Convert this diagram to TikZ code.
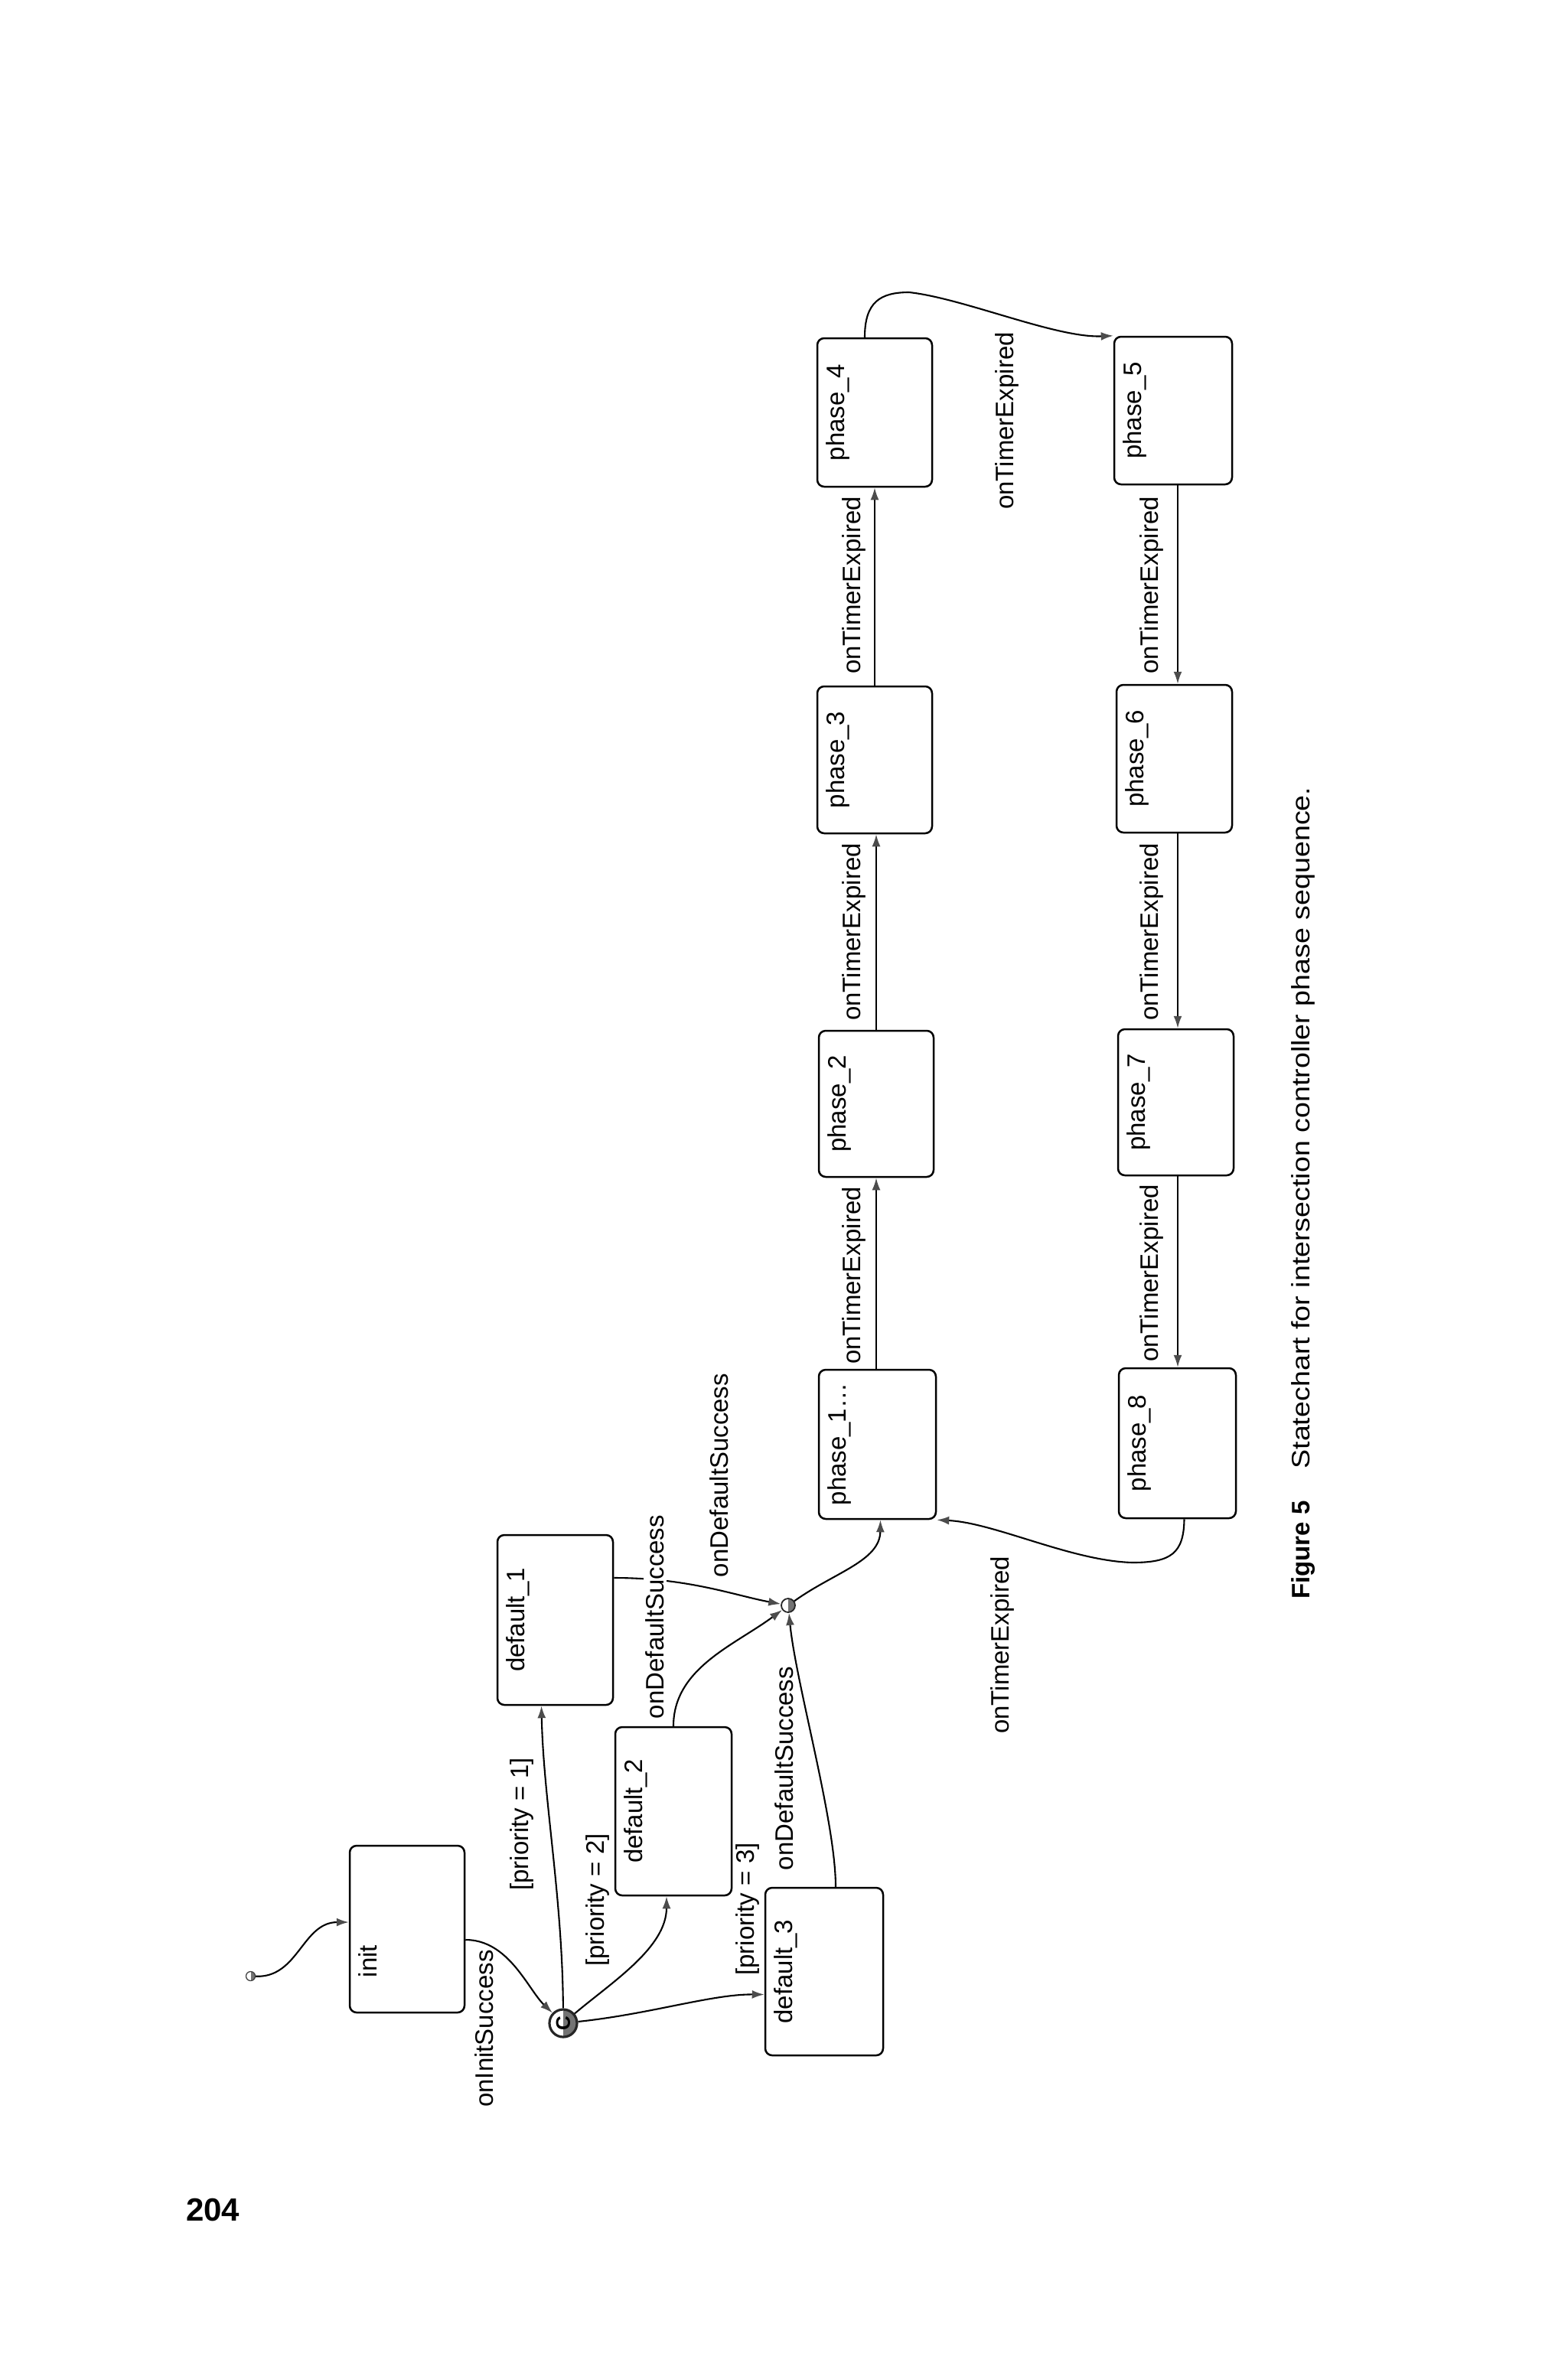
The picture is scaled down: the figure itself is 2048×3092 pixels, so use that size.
\documentclass[tikz,border=0pt]{standalone}
\usepackage{fontspec}
\setmainfont{Liberation Sans}
\usepackage{graphicx}
\usetikzlibrary{arrows.meta,calc}
\tikzset{
  statebox/.style={draw, line width=2.5pt, rounded corners=9pt, inner sep=0pt},
  sname/.style={rotate=90, anchor=north, inner sep=0pt, font=\fontsize{33}{40}\selectfont},
  lbl/.style={rotate=90, inner sep=0pt, font=\fontsize{33}{40}\selectfont},
  conn/.style={line width=2.1pt, line join=round, -{Latex[length=16pt,width=11pt,color=black!70]}},
  halfdot/.style={circle, draw, inner sep=0pt,
    path picture={\fill[black!55] (path picture bounding box.north) rectangle (path picture bounding box.south east);}}
}
\begin{document}
\begin{tikzpicture}[x=1pt,y=-1pt]
\fill[white] (0,0) rectangle (2048,3092);

% states
\node[statebox, minimum width=150pt, minimum height=218pt] (init) at (532,2521) {};
\node[statebox, minimum width=151pt, minimum height=222pt] (d1) at (725.5,2117) {};
\node[statebox, minimum width=152pt, minimum height=220pt] (d2) at (880,2367) {};
\node[statebox, minimum width=154pt, minimum height=219pt] (d3) at (1077,2576.5) {};
\node[statebox, minimum width=153pt, minimum height=195pt] (p1) at (1146.5,1887.5) {};
\node[statebox, minimum width=150pt, minimum height=191pt] (p2) at (1145,1442.5) {};
\node[statebox, minimum width=150pt, minimum height=192pt] (p3) at (1143,993) {};
\node[statebox, minimum width=150pt, minimum height=194pt] (p4) at (1143,539) {};
\node[statebox, minimum width=154pt, minimum height=193pt] (p5) at (1533,536.5) {};
\node[statebox, minimum width=151pt, minimum height=193pt] (p6) at (1534.5,991.5) {};
\node[statebox, minimum width=151pt, minimum height=191pt] (p7) at (1536.5,1440.5) {};
\node[statebox, minimum width=153pt, minimum height=196pt] (p8) at (1538.5,1886) {};

% state names
\node[sname] (ninit) at ([xshift=13pt,yshift=-42pt]init.west) {init};
\node[sname] (nd1) at ([xshift=13pt]d1.west) {default\_1};
\node[sname] (nd2) at ([xshift=13pt]d2.west) {default\_2};
\node[sname] (nd3) at ([xshift=13pt]d3.west) {default\_3};
\node[sname] (np1) at ([xshift=13pt]p1.west) {phase\_1…};
\node[sname] (np2) at ([xshift=13pt]p2.west) {phase\_2};
\node[sname] (np3) at ([xshift=13pt]p3.west) {phase\_3};
\node[sname] (np4) at ([xshift=13pt]p4.west) {phase\_4};
\node[sname] (np5) at ([xshift=13pt]p5.west) {phase\_5};
\node[sname] (np6) at ([xshift=13pt]p6.west) {phase\_6};
\node[sname] (np7) at ([xshift=13pt]p7.west) {phase\_7};
\node[sname] (np8) at ([xshift=13pt]p8.west) {phase\_8};

% pseudo states
\node[halfdot, line width=1.3pt, draw=black!75, minimum size=12pt] (ini) at (327.5,2582.5) {};
\node[halfdot, line width=3.2pt, draw=black!85, minimum size=36pt] (ch) at (736,2644) {};
\node[rotate=90, inner sep=0pt, font=\bfseries\fontsize{26}{26}\selectfont] (chc) at (736,2644) {C};
\node[halfdot, line width=1.8pt, draw=black!85, minimum size=18pt] (jn) at (1030,2098) {};

% connectors
\draw[conn] (ini) .. controls (390,2585) and (395,2512) .. ([yshift=9pt]init.west);
\draw[conn] ([yshift=-14pt]init.east) .. controls (665,2535) and (690,2600) .. (ch);
\draw[conn] (ch) .. controls (735,2480) and (710,2350) .. ([xshift=-18pt]d1.south);
\draw[conn] (ch) .. controls (800,2590) and (871,2545) .. ([xshift=-9pt]d2.south);
\draw[conn] (ch) .. controls (850,2632) and (930,2606) .. ([yshift=-30pt]d3.west);
\draw[conn] ([yshift=55pt]d1.east) .. controls (900,2062) and (960,2085) .. (jn);
\draw[conn] (d2.north) .. controls (880,2180) and (960,2150) .. (jn);
\draw[conn] ([xshift=15pt]d3.north) .. controls (1092,2380) and (1040,2200) .. (jn);
\draw[conn] (jn) .. controls (1090,2055) and (1150,2040) .. ([xshift=4pt]p1.south);

\draw[conn] ([xshift=-1.5pt]p1.north) -- ([xshift=-1.5pt]p1.north |- p2.south);
\draw[conn] (p2.north) -- (p2.north |- p3.south);
\draw[conn] (p3.north) -- (p3.north |- p4.south);
\draw[conn] ([xshift=-13pt]p4.north) .. controls (1130,395) and (1150,382) .. (1188,382)
   .. controls (1260,390) and (1380,442) .. (p5.north west);
\draw[conn] ([xshift=6pt]p5.south) -- ([xshift=6pt]p5.south |- p6.north);
\draw[conn] ([xshift=4.5pt]p6.south) -- ([xshift=4.5pt]p6.south |- p7.north);
\draw[conn] ([xshift=2.5pt]p7.south) -- ([xshift=2.5pt]p7.south |- p8.north);
\draw[conn] ([xshift=9pt]p8.south) .. controls (1547,2030) and (1530,2042) .. (1480,2042)
   .. controls (1400,2040) and (1300,1990) .. (p1.south east);

% transition labels
\node[lbl] (l0) at (633,2651) {onInitSuccess};
\node[lbl] (l1) at (682,2384) {[priority = 1]};
\node[lbl] (l2) at (781,2483) {[priority = 2]};
\node[lbl] (l3) at (977,2495) {[priority = 3]};
\node[lbl, fill=white, inner sep=3pt] (l4) at (856,2113) {onDefaultSuccess};
\node[lbl] (l5) at (940,1928) {onDefaultSuccess};
\node[lbl] (l6) at (1025,2311) {onDefaultSuccess};
\node[lbl] (l7) at (1116,1667) {onTimerExpired};
\node[lbl] (l8) at (1116,1218) {onTimerExpired};
\node[lbl] (l9) at (1116,765) {onTimerExpired};
\node[lbl] (l10) at (1316,550) {onTimerExpired};
\node[lbl] (l11) at (1505,765) {onTimerExpired};
\node[lbl] (l12) at (1505,1218) {onTimerExpired};
\node[lbl] (l13) at (1505,1664) {onTimerExpired};
\node[lbl] (l14) at (1310,2150) {onTimerExpired};

% caption and page number
\node[rotate=90, anchor=base west, inner sep=0pt, font=\fontsize{33}{40}\selectfont] (cap) at (1711,2090)
  {\textbf{Figure 5}\hspace{42pt}\scalebox{1.14}[1]{Statechart for intersection controller phase sequence.}};
\node[anchor=base west, inner sep=0pt, font=\bfseries\fontsize{42}{50}\selectfont] (pg) at (243,2902) {204};
\end{tikzpicture}
\end{document}
